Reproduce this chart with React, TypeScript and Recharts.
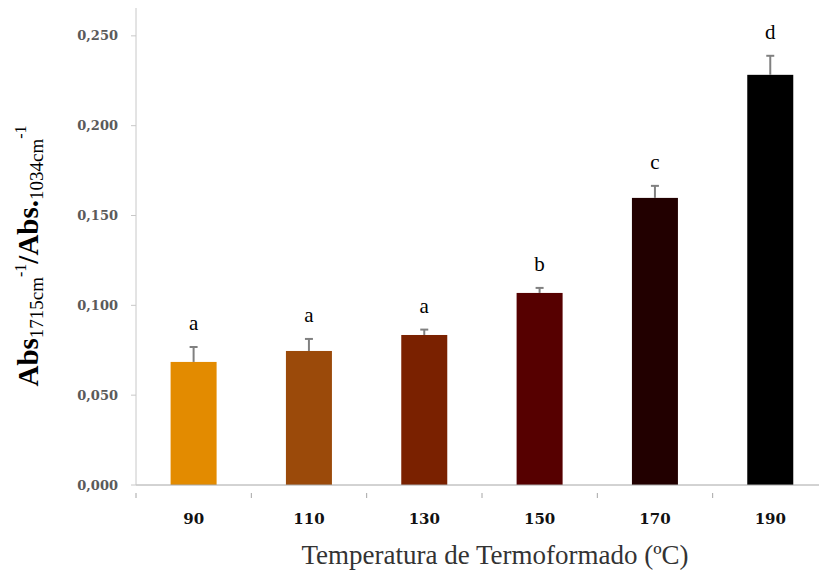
import { Bar, BarChart, Cell, XAxis, YAxis } from 'recharts';

const temperatures = ['90', '110', '130', '150', '170', '190'];
const ratios = [0.0685, 0.0746, 0.0835, 0.1069, 0.1598, 0.2283];
const errors = [0.0083, 0.0067, 0.003, 0.0028, 0.0067, 0.0106];
const letters = ['a', 'a', 'a', 'b', 'c', 'd'];
const colors = ['#E38B00', '#9B4A0A', '#7A2100', '#560000', '#220000', '#000000'];
const yTicks = [0, 0.05, 0.1, 0.15, 0.2, 0.25];

const CHART_W = 840;
const CHART_H = 574;
const Y_AXIS_W = 136;
const MARGIN = { top: 8, right: 12, left: 0, bottom: 0 };
const HALF_BAND = (CHART_W - Y_AXIS_W - MARGIN.right) / temperatures.length / 2;

const data = temperatures.map((t, i) => ({
  temp: t,
  ratio: ratios[i],
  idx: i,
}));

const fmt = (v: number) => v.toFixed(3).replace('.', ',');

// bar + upper error whisker + significance letter, scaled from the bar's own geometry
function BarWithLetter(props: any) {
  const { x, y, width, height, fill, index } = props;
  const i = typeof index === 'number' ? index : props.payload?.idx ?? 0;
  const pxPerUnit = height / ratios[i];
  const capY = y - errors[i] * pxPerUnit;
  const cx = x + width / 2;
  return (
    <g>
      <rect x={x} y={y} width={width} height={height} fill={fill} />
      <line x1={cx} y1={y} x2={cx} y2={capY} stroke="#808080" strokeWidth={2} />
      <line x1={cx - 4} y1={capY} x2={cx + 4} y2={capY} stroke="#808080" strokeWidth={2} />
      <text
        x={cx}
        y={capY - 17}
        textAnchor="middle"
        fontFamily="Liberation Serif"
        fontSize={21}
        fill="#000"
      >
        {letters[i]}
      </text>
    </g>
  );
}

function TempTick(props: any) {
  const { x, y, payload } = props;
  return (
    <g>
      <line x1={x - HALF_BAND} y1={y} x2={x - HALF_BAND} y2={y + 5} stroke="#a6a6a6" />
      <text
        x={x}
        y={y + 31}
        textAnchor="middle"
        fontFamily="DejaVu Serif"
        fontWeight="bold"
        fontSize={15}
        fill="#111"
      >
        {payload.value}
      </text>
    </g>
  );
}

const yTitle = () => (
  <text
    transform="translate(38,256) rotate(-90)"
    textAnchor="middle"
    fontFamily="Liberation Serif"
    fill="#000"
  >
    <tspan fontSize={29} fontWeight="bold">Abs</tspan>
    <tspan fontSize={19} dy={5}>1715cm</tspan>
    <tspan fontSize={16} dy={-17}>-1</tspan>
    <tspan fontSize={29} fontWeight="bold" dy={12}>/Abs.</tspan>
    <tspan fontSize={19} dy={5}>1034cm</tspan>
    <tspan fontSize={16} dy={-17}>-1</tspan>
  </text>
);

const xTitle = () => (
  <text
    x={495}
    y={564}
    textAnchor="middle"
    fontFamily="Liberation Serif"
    fontSize={27}
    fill="#333"
  >
    Temperatura de Termoformado (ºC)
  </text>
);

export default function App() {
  return (
    <div
      style={{
        position: 'absolute',
        left: 0,
        top: 0,
        width: 819,
        height: 574,
        overflow: 'hidden',
        background: '#fff',
      }}
    >
      <BarChart width={CHART_W} height={CHART_H} data={data} margin={MARGIN} barCategoryGap="30%">
        <XAxis
          dataKey="temp"
          height={CHART_H - 485}
          axisLine={{ stroke: '#a6a6a6' }}
          tickLine={false}
          tick={<TempTick />}
          interval={0}
          label={xTitle}
        />
        <YAxis
          width={Y_AXIS_W}
          domain={[0, 0.2655]}
          ticks={yTicks}
          tickFormatter={fmt}
          axisLine={{ stroke: '#c8c8c8' }}
          tickLine={{ stroke: '#c8c8c8' }}
          tickSize={5}
          tickMargin={13}
          tick={{ fontFamily: 'DejaVu Serif', fontWeight: 'bold', fontSize: 13, fill: '#5a5a5a' }}
          label={yTitle}
        />
        <Bar dataKey="ratio" isAnimationActive={false} shape={<BarWithLetter />}>
          {data.map((d, i) => (
            <Cell key={d.temp} fill={colors[i]} />
          ))}
        </Bar>
      </BarChart>
    </div>
  );
}
